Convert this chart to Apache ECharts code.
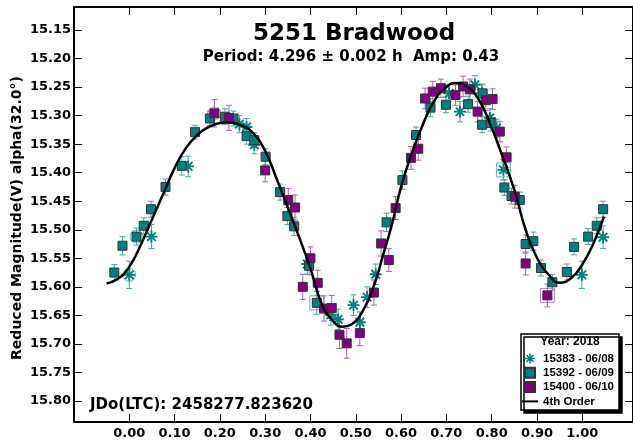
<!DOCTYPE html>
<html>
<head>
<meta charset="utf-8">
<title>5251 Bradwood</title>
<script src="https://cdn.jsdelivr.net/npm/echarts@6/dist/echarts.min.js"></script>
<style>
html, body { margin: 0; padding: 0; background: #fff; }
#chart { width: 633px; height: 445px; }
</style>
</head>
<body>
<div id="chart"></div>
<script>
// [phase, reduced mag, error]
var star0608 = [
  [0.000, 15.579, 0.024], [0.049, 15.512, 0.021], [0.130, 15.389, 0.018], [0.243, 15.315, 0.015],
  [0.259, 15.320, 0.015], [0.276, 15.351, 0.016], [0.393, 15.560, 0.018], [0.445, 15.649, 0.018],
  [0.461, 15.657, 0.018], [0.495, 15.632, 0.018], [0.509, 15.662, 0.018], [0.525, 15.618, 0.018],
  [0.544, 15.578, 0.018], [0.706, 15.261, 0.015], [0.730, 15.293, 0.018], [0.763, 15.246, 0.016],
  [0.778, 15.261, 0.016], [0.796, 15.304, 0.016], [0.811, 15.322, 0.016], [0.826, 15.395, 0.018],
  [0.999, 15.579, 0.024], [1.046, 15.513, 0.020]
];
var sq0609 = [
  [-0.033, 15.575, 0.014], [-0.015, 15.528, 0.016], [0.016, 15.512, 0.015], [0.032, 15.493, 0.014],
  [0.048, 15.464, 0.014], [0.080, 15.425, 0.014], [0.116, 15.388, 0.016], [0.145, 15.329, 0.012],
  [0.178, 15.305, 0.013], [0.211, 15.302, 0.014], [0.230, 15.305, 0.013], [0.259, 15.336, 0.014],
  [0.276, 15.343, 0.013], [0.301, 15.372, 0.014], [0.333, 15.434, 0.014], [0.349, 15.476, 0.015],
  [0.364, 15.494, 0.016], [0.397, 15.563, 0.016], [0.414, 15.628, 0.020], [0.568, 15.487, 0.016],
  [0.603, 15.413, 0.016], [0.633, 15.334, 0.014], [0.665, 15.286, 0.016], [0.699, 15.281, 0.014],
  [0.748, 15.280, 0.014], [0.780, 15.261, 0.016], [0.779, 15.316, 0.014], [0.798, 15.313, 0.014],
  [0.828, 15.426, 0.014], [0.844, 15.441, 0.014], [0.862, 15.448, 0.014], [0.875, 15.525, 0.016],
  [0.892, 15.520, 0.016], [0.909, 15.567, 0.014], [0.934, 15.592, 0.014], [0.966, 15.574, 0.014],
  [0.982, 15.530, 0.014], [1.013, 15.512, 0.014], [1.032, 15.493, 0.014], [1.046, 15.464, 0.014]
];
var sq0610 = [
  [0.188, 15.296, 0.024], [0.220, 15.304, 0.022], [0.300, 15.396, 0.020], [0.351, 15.448, 0.020],
  [0.366, 15.461, 0.022], [0.383, 15.600, 0.022], [0.400, 15.550, 0.020], [0.416, 15.593, 0.022],
  [0.430, 15.638, 0.022], [0.447, 15.637, 0.022], [0.464, 15.684, 0.024], [0.480, 15.699, 0.026],
  [0.509, 15.681, 0.022], [0.540, 15.610, 0.022], [0.556, 15.524, 0.022], [0.573, 15.553, 0.020],
  [0.588, 15.462, 0.020], [0.622, 15.374, 0.020], [0.638, 15.358, 0.020], [0.653, 15.270, 0.018],
  [0.670, 15.258, 0.018], [0.688, 15.252, 0.016], [0.720, 15.264, 0.018], [0.737, 15.249, 0.018],
  [0.752, 15.254, 0.018], [0.769, 15.293, 0.018], [0.787, 15.273, 0.018], [0.802, 15.271, 0.018],
  [0.818, 15.328, 0.018], [0.833, 15.373, 0.018], [0.851, 15.442, 0.020], [0.875, 15.559, 0.020],
  [0.923, 15.615, 0.020]
];
// 4th order fit
var fitCurve = [
  [-0.05, 15.594], [-0.025, 15.586], [0.0, 15.565], [0.025, 15.527], [0.05, 15.482], [0.075, 15.437],
  [0.10, 15.392], [0.125, 15.357], [0.15, 15.334], [0.175, 15.320], [0.20, 15.313], [0.215, 15.312],
  [0.25, 15.318], [0.275, 15.332], [0.30, 15.362], [0.325, 15.410], [0.35, 15.461], [0.375, 15.513],
  [0.40, 15.568], [0.425, 15.630], [0.45, 15.660], [0.47, 15.670], [0.49, 15.666], [0.515, 15.643],
  [0.54, 15.598], [0.56, 15.545], [0.58, 15.490], [0.60, 15.425], [0.625, 15.363], [0.65, 15.312],
  [0.675, 15.272], [0.70, 15.250], [0.72, 15.243], [0.745, 15.249], [0.77, 15.270], [0.795, 15.311],
  [0.82, 15.363], [0.85, 15.430], [0.875, 15.500], [0.90, 15.549], [0.925, 15.578], [0.95, 15.593],
  [0.975, 15.585], [1.0, 15.561], [1.025, 15.523], [1.048, 15.477]
];
// marked points
var circledTeal = [[0.000, 15.579], [0.016, 15.512]];
var circledPurple = [[0.188, 15.296]];
var boxedTeal = [[0.414, 15.628], [0.826, 15.395]];
var boxedPurple = [[0.923, 15.615]];

var xTicks = [0, 0.1, 0.2, 0.3, 0.4, 0.5, 0.6, 0.7, 0.8, 0.9, 1.0];
var yTicks = [15.15, 15.20, 15.25, 15.30, 15.35, 15.40, 15.45, 15.50, 15.55, 15.60, 15.65, 15.70, 15.75, 15.80];

var teal = '#008080', tealBar = '#4aa5a5', purple = '#800080', purpleBar = '#b060b0';
var wide = 'DejaVu Sans', narrow = 'Liberation Sans';
var starPath = 'path://M8.4 0L11.6 0L11.6 20L8.4 20Z M0 8.4L20 8.4L20 11.6L0 11.6Z M1.77 4.03L4.03 1.77L18.23 15.97L15.97 18.23Z M15.97 1.77L18.23 4.03L4.03 18.23L1.77 15.97Z';
var squarePath = 'path://M0 0L10 0L10 10L0 10Z';
var linePath = 'path://M0 0L20 0L20 2.5L0 2.5Z';

function errorBars(color) {
  return function (params, api) {
    var x = api.value(0), y = api.value(1), e = api.value(2);
    var hi = api.coord([x, y - e]);
    var lo = api.coord([x, y + e]);
    var st = { stroke: color, lineWidth: 1 };
    return {
      type: 'group',
      children: [
        { type: 'line', shape: { x1: hi[0], y1: hi[1], x2: lo[0], y2: lo[1] }, style: st },
        { type: 'line', shape: { x1: hi[0] - 3, y1: hi[1], x2: hi[0] + 3, y2: hi[1] }, style: st },
        { type: 'line', shape: { x1: lo[0] - 3, y1: lo[1], x2: lo[0] + 3, y2: lo[1] }, style: st }
      ]
    };
  };
}

function marks(data, symbol, size, color) {
  return {
    type: 'scatter', data: data, symbol: symbol, symbolSize: size, silent: true, z: 2,
    itemStyle: { color: 'transparent', borderColor: color, borderWidth: 1 }
  };
}

var tickLabel = { color: '#000', fontFamily: wide, fontWeight: 'bold', fontSize: 13 };
var frameLine = { show: true, onZero: false, lineStyle: { color: '#000', width: 2 } };

var myChart = echarts.init(document.getElementById('chart'));
var option = {
  backgroundColor: '#fff',
  animation: false,
  grid: { left: 74, right: 0, top: 7, bottom: 23 },
  xAxis: [{
    type: 'value', min: -0.122, max: 1.112, position: 'bottom',
    axisLine: frameLine,
    axisTick: { inside: true, length: 8, customValues: xTicks, lineStyle: { color: '#000' } },
    axisLabel: Object.assign({ customValues: xTicks, margin: 5, formatter: function (v) { return v.toFixed(2); } }, tickLabel),
    splitLine: { show: false }
  }, {
    type: 'value', min: -0.122, max: 1.112, position: 'top',
    axisLine: frameLine,
    axisTick: { inside: true, length: 8, customValues: xTicks, lineStyle: { color: '#000' } },
    axisLabel: { show: false },
    splitLine: { show: false }
  }],
  yAxis: [{
    type: 'value', inverse: true, min: 15.1097, max: 15.8368, position: 'left',
    axisLine: frameLine,
    axisTick: { inside: true, length: 8, customValues: yTicks, lineStyle: { color: '#000' } },
    axisLabel: Object.assign({ customValues: yTicks, margin: 3, formatter: function (v) { return v.toFixed(2); } }, tickLabel),
    splitLine: { show: false }
  }, {
    type: 'value', inverse: true, min: 15.1097, max: 15.8368, position: 'right',
    axisLine: frameLine,
    axisTick: { inside: true, length: 8, customValues: yTicks, lineStyle: { color: '#000' } },
    axisLabel: { show: false },
    splitLine: { show: false }
  }],
  legend: {
    left: 522, top: 352.5, orient: 'vertical', padding: 0, z: 10,
    itemWidth: 16, itemHeight: 10, itemGap: 2.3,
    textStyle: { color: '#000', fontFamily: narrow, fontWeight: 'bold', fontSize: 11.5, lineHeight: 12 },
    data: [
      { name: '15383 - 06/08', icon: starPath },
      { name: '15392 - 06/09', icon: squarePath },
      { name: '15400 - 06/10', icon: squarePath },
      { name: '4th Order', icon: linePath }
    ]
  },
  graphic: [
    { type: 'text', x: 354, y: 34, z: 10, style: { text: '5251 Bradwood', fill: '#000', font: 'bold 23px "DejaVu Sans"', textAlign: 'center', textVerticalAlign: 'middle' } },
    { type: 'text', x: 351, y: 57, z: 10, style: { text: 'Period: 4.296 \u00b1 0.002 h  Amp: 0.43', fill: '#000', font: 'bold 15px "DejaVu Sans"', textAlign: 'center', textVerticalAlign: 'middle' } },
    { type: 'text', x: 90, y: 405, z: 10, style: { text: 'JDo(LTC): 2458277.823620', fill: '#000', font: 'bold 15px "DejaVu Sans"', textAlign: 'left', textVerticalAlign: 'middle' } },
    { type: 'text', x: 17, y: 218, rotation: Math.PI / 2, z: 10, style: { text: 'Reduced Magnitude(V) alpha(32.0\u00b0)', fill: '#000', font: 'bold 14px "DejaVu Sans"', textAlign: 'center', textVerticalAlign: 'middle' } },
    { type: 'rect', shape: { x: 521, y: 334, width: 98, height: 76 }, z: 1,
      style: { fill: '#fff', stroke: '#000', lineWidth: 1.5, shadowColor: '#000', shadowOffsetX: 3, shadowOffsetY: 3, shadowBlur: 0 } },
    { type: 'text', x: 570, y: 342, z: 10, style: { text: 'Year: 2018', fill: '#000', font: 'bold 12px "Liberation Sans"', textAlign: 'center', textVerticalAlign: 'middle' } }
  ],
  series: [
    { type: 'custom', data: star0608, renderItem: errorBars(tealBar), encode: { x: 0, y: 1 }, silent: true, z: 1 },
    { type: 'custom', data: sq0609, renderItem: errorBars(tealBar), encode: { x: 0, y: 1 }, silent: true, z: 1 },
    { type: 'custom', data: sq0610, renderItem: errorBars(purpleBar), encode: { x: 0, y: 1 }, silent: true, z: 1 },
    marks(circledTeal, 'circle', 13, tealBar),
    marks(circledPurple, 'circle', 13, purpleBar),
    marks(boxedTeal, 'rect', 14, tealBar),
    marks(boxedPurple, 'rect', 14, purpleBar),
    { name: '15383 - 06/08', type: 'scatter', data: star0608, symbol: starPath, symbolSize: 12, silent: true, z: 3,
      itemStyle: { color: teal, opacity: 1 } },
    { name: '15392 - 06/09', type: 'scatter', data: sq0609, symbol: 'rect', symbolSize: 9, silent: true, z: 3,
      itemStyle: { color: teal, borderColor: '#333', borderWidth: 1, opacity: 1 } },
    { name: '15400 - 06/10', type: 'scatter', data: sq0610, symbol: 'rect', symbolSize: 9, silent: true, z: 3,
      itemStyle: { color: purple, borderColor: '#333', borderWidth: 1, opacity: 1 } },
    { name: '4th Order', type: 'line', data: fitCurve, smooth: true, showSymbol: false, silent: true, z: 4,
      itemStyle: { color: '#000' }, lineStyle: { color: '#000', width: 2.5 } }
  ]
};
myChart.setOption(option);
</script>
</body>
</html>
